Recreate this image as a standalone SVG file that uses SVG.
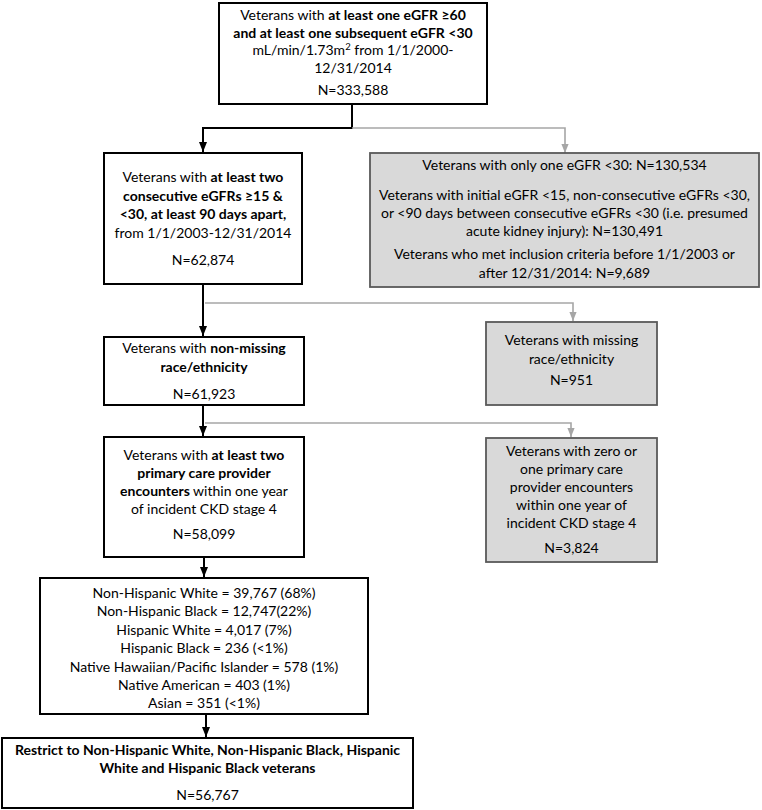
<svg xmlns="http://www.w3.org/2000/svg" width="762" height="810" viewBox="0 0 762 810">
<defs>
<style>
.box{fill:#ffffff;stroke:#000000;stroke-width:2}
.gbox{fill:#d9d9d9;stroke:#595959;stroke-width:1.8}
text{font-family:Lato,"Liberation Sans",sans-serif;font-size:14px;fill:#000000;text-anchor:middle}
.b{font-weight:bold}
.blk{fill:none;stroke:#000000;stroke-width:2}
.gry{fill:none;stroke:#a6a6a6;stroke-width:1.6}
</style>
<marker id="ab" markerUnits="userSpaceOnUse" markerWidth="10" markerHeight="10" viewBox="0 0 10 10" refX="10" refY="5" orient="auto">
<path d="M0,1 L10,5 L0,9 z" fill="#000000"/>
</marker>
<marker id="ag" markerUnits="userSpaceOnUse" markerWidth="9" markerHeight="9" viewBox="0 0 10 10" refX="10" refY="5" orient="auto">
<path d="M0,1 L10,5 L0,9 z" fill="#a6a6a6"/>
</marker>
</defs>
<rect width="762" height="810" fill="#ffffff"/>
<g id="connectors">
<path class="blk" d="M352,104 V128 H203 V152" marker-end="url(#ab)"/>
<path class="gry" d="M352,128 H565 V153" marker-end="url(#ag)"/>
<path class="blk" d="M203,284 V336" marker-end="url(#ab)"/>
<path class="gry" d="M205,303 H573 V321" marker-end="url(#ag)"/>
<path class="blk" d="M203,405 V436" marker-end="url(#ab)"/>
<path class="gry" d="M205,423 H571 V437" marker-end="url(#ag)"/>
<path class="blk" d="M204,557 V577" marker-end="url(#ab)"/>
<path class="blk" d="M206,714 V737" marker-end="url(#ab)"/>
</g>
<g id="n1">
<rect class="box" x="219" y="3" width="268" height="101"/>
<text x="353" y="20">Veterans with <tspan class="b">at least one eGFR ≥60</tspan></text>
<text x="353" y="37.5" class="b">and at least one subsequent eGFR &lt;30</text>
<text x="353" y="55">mL/min/1.73m<tspan font-size="9.5" dy="-5">2</tspan><tspan dy="5"> from 1/1/2000-</tspan></text>
<text x="353" y="72.5">12/31/2014</text>
<text x="353" y="95">N=333,588</text>
</g>
<g id="n2">
<rect class="gbox" x="370" y="153" width="389" height="134"/>
<text x="564.5" y="170">Veterans with only one eGFR &lt;30: N=130,534</text>
<text x="564.5" y="200">Veterans with initial eGFR &lt;15, non-consecutive eGFRs &lt;30,</text>
<text x="564.5" y="218">or &lt;90 days between consecutive eGFRs &lt;30 (i.e. presumed</text>
<text x="564.5" y="236">acute kidney injury): N=130,491</text>
<text x="564.5" y="259">Veterans who met inclusion criteria before 1/1/2003 or</text>
<text x="564.5" y="278">after 12/31/2014: N=9,689</text>
</g>
<g id="n3">
<rect class="box" x="104" y="153" width="198" height="131"/>
<text x="203" y="182">Veterans with <tspan class="b">at least two</tspan></text>
<text x="203" y="200.5" class="b">consecutive eGFRs ≥15 &amp;</text>
<text x="203" y="219" class="b">&lt;30, at least 90 days apart,</text>
<text x="203" y="237.5">from 1/1/2003-12/31/2014</text>
<text x="203" y="264.5">N=62,874</text>
</g>
<g id="n4">
<rect class="box" x="104" y="337" width="200" height="68"/>
<text x="204" y="353">Veterans with <tspan class="b">non-missing</tspan></text>
<text x="204" y="372" class="b">race/ethnicity</text>
<text x="204" y="399">N=61,923</text>
</g>
<g id="n5">
<rect class="gbox" x="486" y="322" width="171" height="83"/>
<text x="571.5" y="345">Veterans with missing</text>
<text x="571.5" y="364">race/ethnicity</text>
<text x="571.5" y="385">N=951</text>
</g>
<g id="n6">
<rect class="box" x="104" y="437" width="200" height="120"/>
<text x="204" y="460">Veterans with <tspan class="b">at least two</tspan></text>
<text x="204" y="478" class="b">primary care provider</text>
<text x="204" y="496"><tspan class="b">encounters</tspan> within one year</text>
<text x="204" y="514">of incident CKD stage 4</text>
<text x="204" y="539">N=58,099</text>
</g>
<g id="n7">
<rect class="gbox" x="486" y="438" width="171" height="124"/>
<text x="571.5" y="456">Veterans with zero or</text>
<text x="571.5" y="474">one primary care</text>
<text x="571.5" y="492">provider encounters</text>
<text x="571.5" y="510">within one year of</text>
<text x="571.5" y="528">incident CKD stage 4</text>
<text x="571.5" y="553">N=3,824</text>
</g>
<g id="n8">
<rect class="box" x="40" y="578" width="328" height="136"/>
<text x="204" y="598">Non-Hispanic White = 39,767 (68%)</text>
<text x="204" y="616.4">Non-Hispanic Black = 12,747(22%)</text>
<text x="204" y="634.8">Hispanic White = 4,017 (7%)</text>
<text x="204" y="653.2">Hispanic Black = 236 (&lt;1%)</text>
<text x="204" y="671.6">Native Hawaiian/Pacific Islander = 578 (1%)</text>
<text x="204" y="690">Native American = 403 (1%)</text>
<text x="204" y="708.4">Asian = 351 (&lt;1%)</text>
</g>
<g id="n9">
<rect class="box" x="2" y="738" width="411" height="70"/>
<text x="207.5" y="755" class="b">Restrict to Non-Hispanic White, Non-Hispanic Black, Hispanic</text>
<text x="207.5" y="773" class="b">White and Hispanic Black veterans</text>
<text x="207.5" y="800">N=56,767</text>
</g>
</svg>
